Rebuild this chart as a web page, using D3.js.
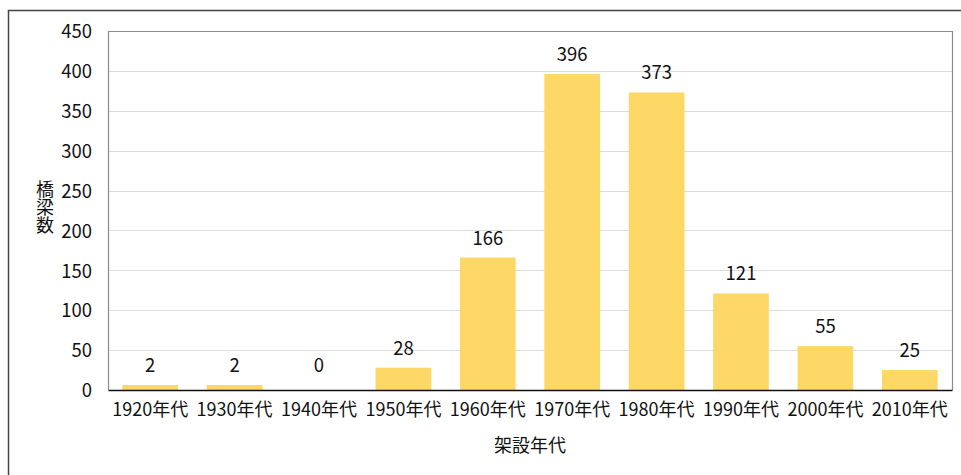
<!DOCTYPE html>
<meta charset="utf-8">
<style>
body { margin: 0; background: #fff; }
text { font-family: "Noto Sans CJK JP", sans-serif; fill: #111; }
.grid line { stroke: #dcdcdc; }
</style>
<svg width="961" height="475"></svg>
<script src="https://d3js.org/d3.v7.min.js"></script>
<script>

var decades = ["1920年代", "1930年代", "1940年代", "1950年代", "1960年代",
               "1970年代", "1980年代", "1990年代", "2000年代", "2010年代"];
var bridges = [2, 2, 0, 28, 166, 396, 373, 121, 55, 25];
var yTicks = [0, 50, 100, 150, 200, 250, 300, 350, 400, 450];

var svg = d3.select("svg");
var plotL = 108, plotR = 952, plotT = 31, plotB = 390;

// outer frame (runs off the right and bottom edge)
svg.append("rect")
    .attr("x", 8.5).attr("y", 10.5)
    .attr("width", 980).attr("height", 480)
    .attr("fill", "none").attr("stroke", "#444").attr("stroke-width", 1.5);

var x = d3.scaleBand().domain(decades).range([plotL, plotR]).paddingInner(0.34).paddingOuter(0.17);
var y = d3.scaleLinear().domain([0, 450]).range([plotB, plotT]);

// gridlines
svg.append("g").attr("class", "grid")
  .selectAll("line")
  .data(yTicks.slice(1, -1))
  .enter().append("line")
    .attr("x1", plotL).attr("x2", plotR)
    .attr("y1", function(d) { return Math.round(y(d)) + 0.5; })
    .attr("y2", function(d) { return Math.round(y(d)) + 0.5; });

// plot frame
svg.append("path")
    .attr("d", "M" + (plotL + 0.5) + "," + plotB + "V" + (plotT + 0.5) + "H" + (plotR + 0.5) + "V" + plotB)
    .attr("fill", "none").attr("stroke", "#8c8c8c").attr("stroke-width", 1.2);

// bars (tiny non-zero values kept visible)
function barTop(d) { return d > 0 ? Math.min(y(d), plotB - 5) : plotB; }

svg.append("g")
  .selectAll("rect")
  .data(bridges)
  .enter().append("rect")
    .attr("x", function(d, i) { return x(decades[i]); })
    .attr("width", x.bandwidth())
    .attr("y", barTop)
    .attr("height", function(d) { return plotB - barTop(d); })
    .attr("fill", "#fdd866");

// value labels
svg.append("g")
  .selectAll("text")
  .data(bridges)
  .enter().append("text")
    .attr("x", function(d, i) { return x(decades[i]) + x.bandwidth() / 2; })
    .attr("y", function(d) { return (d > 0 ? barTop(d) : plotB - 5) - 13; })
    .attr("text-anchor", "middle")
    .style("font-size", "18.5px")
    .text(function(d) { return d; });

// y axis
var yAxis = svg.append("g")
    .attr("transform", "translate(" + plotL + ",0)")
    .call(d3.axisLeft(y).tickValues(yTicks).tickSize(0).tickPadding(16));
yAxis.select(".domain").remove();
yAxis.selectAll("text").style("font-size", "18.5px").style("fill", "#111").attr("dy", "0.36em");

// x axis
var xAxis = svg.append("g")
    .attr("transform", "translate(0," + plotB + ")")
    .call(d3.axisBottom(x).tickSize(0).tickPadding(13));
xAxis.select(".domain").attr("stroke", "#111").attr("stroke-width", 1.5);
xAxis.selectAll("text").style("font-size", "18px").style("fill", "#111");

// axis titles
svg.append("text")
    .attr("x", (plotL + plotR) / 2).attr("y", 452)
    .attr("text-anchor", "middle")
    .style("font-size", "18px")
    .text("架設年代");

svg.append("text")
    .attr("x", 45).attr("y", 180)
    .style("writing-mode", "vertical-rl")
    .style("text-orientation", "upright")
    .style("font-size", "18px")
    .text("橋梁数");

</script>
